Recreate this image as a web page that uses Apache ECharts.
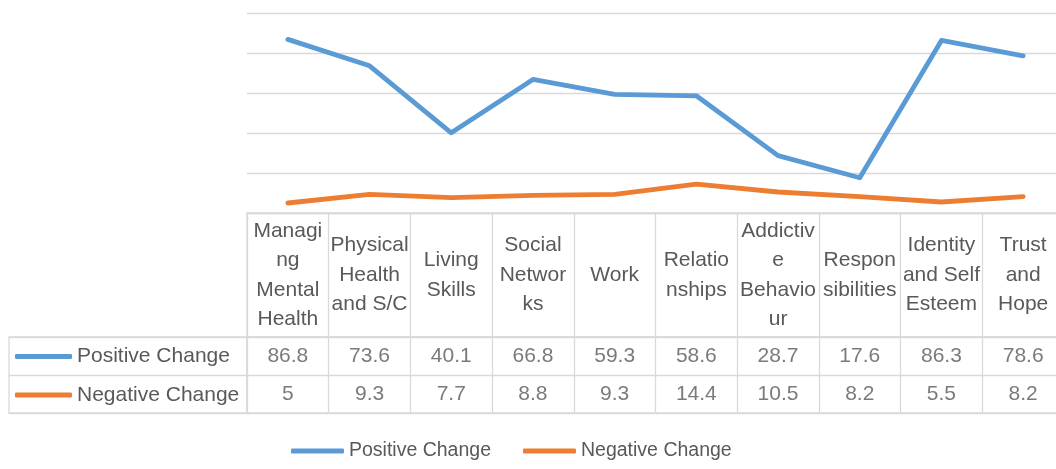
<!DOCTYPE html>
<html>
<head>
<meta charset="utf-8">
<script src="https://cdn.jsdelivr.net/npm/echarts@6/dist/echarts.min.js"></script>
<style>
html,body{margin:0;padding:0;background:#fff;overflow:hidden;}
#chart{width:1066px;height:469px;}
</style>
</head>
<body>
<div id="chart"></div>
<script>
// ---- data ----
var categories = ['Managing Mental Health','Physical Health and S/C','Living Skills','Social Networks','Work','Relationships','Addictive Behaviour','Responsibilities','Identity and Self Esteem','Trust and Hope'];
var headerLabels = ['Managi\nng\nMental\nHealth','Physical\nHealth\nand S/C','Living\nSkills','Social\nNetwor\nks','Work','Relatio\nnships','Addictiv\ne\nBehavio\nur','Respon\nsibilities','Identity\nand Self\nEsteem','Trust\nand\nHope'];
var seriesNames = ['Positive Change','Negative Change'];
var positiveChange = [86.8, 73.6, 40.1, 66.8, 59.3, 58.6, 28.7, 17.6, 86.3, 78.6];
var negativeChange = [5, 9.3, 7.7, 8.8, 9.3, 14.4, 10.5, 8.2, 5.5, 8.2];
var yTicks = {min: 0, max: 100, interval: 20};

// ---- layout/style ----
var TXT = '#595959', GRID = '#d9d9d9', BLUE = '#5B9BD5', ORANGE = '#ED7D31';
var FONT = 'Liberation Sans, Arial, sans-serif';
var L = 247, W = 817;

var tableData = [];
[positiveChange, negativeChange].forEach(function (arr, r) {
  arr.forEach(function (v, i) { tableData.push([i, seriesNames[r], v]); });
});

var chart = echarts.init(document.getElementById('chart'), null, {renderer: 'canvas'});
chart.setOption({
  animation: false,
  backgroundColor: '#fff',
  textStyle: {fontFamily: FONT},
  grid: [
    {left: L, top: 13, width: W, height: 200},
    {left: L, top: 213, width: W, height: 124, show: true, borderColor: GRID, borderWidth: 1.3},
    {left: L, top: 337, width: W, height: 76, show: true, borderColor: GRID, borderWidth: 1.3},
    {left: 9, top: 337, width: L - 9, height: 76, show: true, borderColor: GRID, borderWidth: 1.3}
  ],
  xAxis: [
    {gridIndex: 0, type: 'category', data: categories, boundaryGap: true,
     axisLine: {show: true, lineStyle: {color: GRID, width: 1.3}}, axisTick: {show: false}, axisLabel: {show: false}, splitLine: {show: false}},
    {gridIndex: 1, type: 'category', data: categories, boundaryGap: true,
     axisLine: {show: false}, axisTick: {show: false}, axisLabel: {show: false, interval: 0},
     splitLine: {show: true, interval: 0, lineStyle: {color: GRID, width: 1.3}}},
    {gridIndex: 2, type: 'category', data: categories, boundaryGap: true, position: 'top',
     axisLine: {show: false}, axisTick: {show: false},
     axisLabel: {show: true, interval: 0, margin: 62, verticalAlign: 'middle', align: 'center',
       fontSize: 21, lineHeight: 29.5, color: TXT, fontFamily: FONT,
       formatter: function (val, idx) { return headerLabels[idx]; }},
     splitLine: {show: true, interval: 0, lineStyle: {color: GRID, width: 1.3}}},
    {gridIndex: 3, type: 'value', show: false}
  ],
  yAxis: [
    {gridIndex: 0, type: 'value', min: yTicks.min, max: yTicks.max, interval: yTicks.interval,
     axisLine: {show: false}, axisTick: {show: false}, axisLabel: {show: false},
     splitLine: {show: true, lineStyle: {color: GRID, width: 1.3}}},
    {gridIndex: 1, type: 'value', show: false},
    {gridIndex: 2, type: 'category', data: seriesNames, inverse: true,
     axisLine: {show: false}, axisTick: {show: false}, axisLabel: {show: false, interval: 0},
     splitLine: {show: true, interval: 0, lineStyle: {color: GRID, width: 1.3}}},
    {gridIndex: 3, type: 'category', data: seriesNames, inverse: true,
     axisLine: {show: false}, axisTick: {show: false}, axisLabel: {show: false, interval: 0},
     splitLine: {show: true, interval: 0, lineStyle: {color: GRID, width: 1.3}}}
  ],
  legend: [
    {data: seriesNames, left: 291, top: 440, padding: 0, itemWidth: 53, itemHeight: 5, itemGap: 32, icon: 'roundRect',
     textStyle: {fontSize: 19.5, color: TXT, fontFamily: FONT, lineHeight: 22}},
    {data: [seriesNames[0]], left: 15, top: 344.5, padding: 0, itemWidth: 57, itemHeight: 5, icon: 'roundRect',
     textStyle: {fontSize: 21, color: TXT, fontFamily: FONT, lineHeight: 24}},
    {data: [seriesNames[1]], left: 15, top: 383, padding: 0, itemWidth: 57, itemHeight: 5, icon: 'roundRect',
     textStyle: {fontSize: 21, color: TXT, fontFamily: FONT, lineHeight: 24}}
  ],
  series: [
    {name: seriesNames[0], type: 'line', xAxisIndex: 0, yAxisIndex: 0, data: positiveChange,
     symbol: 'none', showSymbol: false, color: BLUE,
     lineStyle: {color: BLUE, width: 4.8, cap: 'round', join: 'round'}},
    {name: seriesNames[1], type: 'line', xAxisIndex: 0, yAxisIndex: 0, data: negativeChange,
     symbol: 'none', showSymbol: false, color: ORANGE,
     lineStyle: {color: ORANGE, width: 4.8, cap: 'round', join: 'round'}},
    {name: 'table', type: 'scatter', xAxisIndex: 2, yAxisIndex: 2, data: tableData,
     symbolSize: 1, silent: true, itemStyle: {color: 'rgba(0,0,0,0)'},
     label: {show: true, position: 'inside', fontSize: 21, color: TXT, fontFamily: FONT,
       formatter: function (p) { return String(p.value[2]); }}}
  ]
});
</script>
</body>
</html>
